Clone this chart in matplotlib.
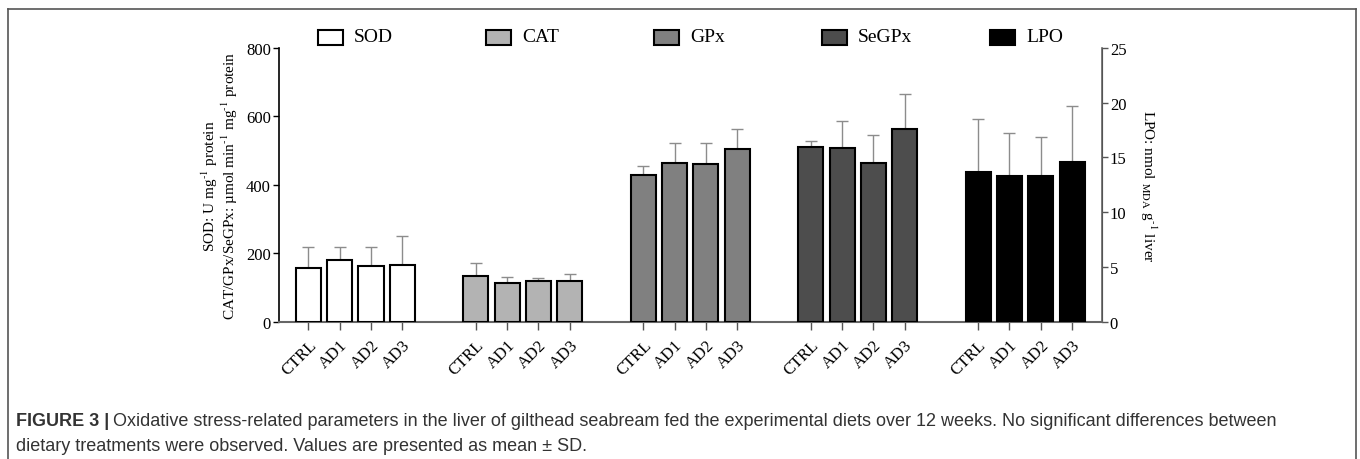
import numpy as np
import matplotlib
matplotlib.use("Agg")
import matplotlib.pyplot as plt
from matplotlib.patches import Rectangle
from matplotlib.lines import Line2D

plt.rcParams['font.family'] = ['Liberation Serif', 'DejaVu Serif']
plt.rcParams['mathtext.fontset'] = 'stix'

# data
diets = ['CTRL', 'AD1', 'AD2', 'AD3']
params = ['SOD', 'CAT', 'GPx', 'SeGPx', 'LPO']
sod_mean = [157, 179, 162, 165]
sod_sd = [62, 40, 57, 86]
cat_mean = [135, 113, 120, 120]
cat_sd = [37, 18, 8, 20]
gpx_mean = [429, 463, 461, 506]
gpx_sd = [26, 59, 61, 58]
segpx_mean = [512, 509, 464, 564]
segpx_sd = [17, 78, 83, 102]
lpo_mean = [13.7, 13.3, 13.3, 14.6]
lpo_sd = [4.8, 3.9, 3.6, 5.1]

colors = ['white', '#b3b3b3', '#808080', '#4d4d4d', 'black']
means = [sod_mean, cat_mean, gpx_mean, segpx_mean, lpo_mean]
sds = [sod_sd, cat_sd, gpx_sd, segpx_sd, lpo_sd]

W, H = 1360, 460
fig = plt.figure(figsize=(W / 100, H / 100), dpi=100)
ax = fig.add_axes([279.3 / W, 1 - 322.7 / H, (1101.5 - 279.3) / W, (322.7 - 49) / H])
ax2 = ax.twinx()

gstep = 5.35
bw = 0.8
xticks = []
for g in range(5):
    x = g * gstep + np.arange(4)
    xticks.extend(x)
    a = ax2 if params[g] == 'LPO' else ax
    a.bar(x, means[g], bw, color=colors[g], edgecolor='black', linewidth=1.5, zorder=3)
    a.errorbar(x, means[g], yerr=[np.zeros(4), sds[g]], fmt='none', ecolor='#8c8c8c',
               elinewidth=1, capsize=4, capthick=1, zorder=2)

ax.set_xlim(-0.93, 4 * gstep + 3.94)
ax.set_ylim(0, 800)
ax2.set_ylim(0, 25)
ax.set_yticks([0, 200, 400, 600, 800])
ax2.set_yticks([0, 5, 10, 15, 20, 25])
ax.set_xticks(xticks)
ax.set_xticklabels(diets * 5, rotation=45, ha='right', rotation_mode='anchor', fontsize=12)
ax.tick_params(axis='x', length=6, width=1, color='#555555', pad=5)
ax.tick_params(axis='y', length=4, width=1, labelsize=12, pad=2)
ax2.tick_params(axis='y', length=4, width=1, labelsize=12, pad=2, color='#555555')

for a in (ax, ax2):
    a.spines['top'].set_visible(False)
ax.spines['left'].set_linewidth(1.2)
ax.spines['bottom'].set_color('#666666')
ax.spines['bottom'].set_linewidth(1.5)
ax2.spines['right'].set_color('#666666')
ax2.spines['right'].set_linewidth(1.2)
ax2.spines['left'].set_visible(False)
ax2.spines['bottom'].set_visible(False)

fig.text(210 / W, 1 - 186 / H, 'SOD: U mg$^{\\text{-}1}$ protein', rotation=90,
         ha='center', va='center', fontsize=11)
fig.text(230 / W, 1 - 186 / H, 'CAT/GPx/SeGPx: µmol min$^{\\text{-}1}$ mg$^{\\text{-}1}$ protein',
         rotation=90, ha='center', va='center', fontsize=11)
fig.text(1148 / W, 1 - 186 / H, 'LPO: nmol $_{\\mathrm{MDA}}$ g$^{\\text{-}1}$ liver', rotation=270,
         ha='center', va='center', fontsize=11)

# legend across the top
for k, name in enumerate(params):
    x0 = 318 + 168 * k
    fig.patches.append(Rectangle((x0 / W, 1 - 45.5 / H), 25 / W, 15 / H, transform=fig.transFigure,
                                 facecolor=colors[k], edgecolor='black', linewidth=1.5))
    fig.text((x0 + 36) / W, 1 - 38 / H, name, ha='left', va='center', fontsize=14)

# frame
fc = '#555555'
fig.add_artist(Line2D([8 / W, 1356 / W], [1 - 10 / H, 1 - 10 / H], color=fc, lw=1.2))
fig.add_artist(Line2D([8 / W, 8 / W], [1 - 10 / H, 0], color=fc, lw=1.2))
fig.add_artist(Line2D([1356 / W, 1356 / W], [1 - 10 / H, 0], color=fc, lw=1.2))

# caption
cap_font = ['Liberation Sans', 'DejaVu Sans']
cs = 13
t1 = fig.text(16 / W, 1 - 421 / H, 'FIGURE 3 |', family=cap_font, weight='bold', fontsize=cs,
              color='#333333', va='center')
r = fig.canvas.get_renderer()
bb = t1.get_window_extent(r)
fig.text((bb.x1 + 4) / W, 1 - 421 / H,
         'Oxidative stress-related parameters in the liver of gilthead seabream fed the experimental '
         'diets over 12 weeks. No significant differences between',
         family=cap_font, fontsize=cs, color='#333333', va='center')
fig.text(16 / W, 1 - 447 / H, 'dietary treatments were observed. Values are presented as mean ± SD.',
         family=cap_font, fontsize=cs, color='#333333', va='center')

fig.savefig('out.png', dpi=100)
